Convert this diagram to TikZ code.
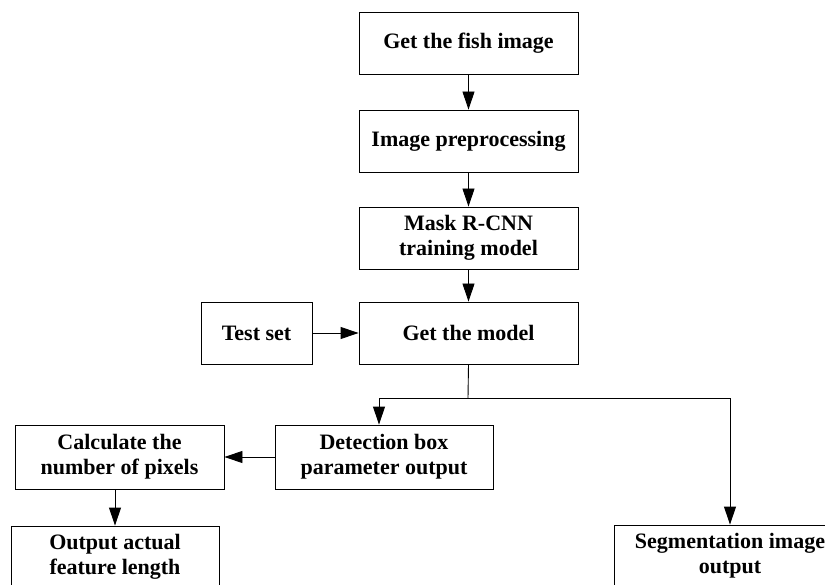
\documentclass[tikz,border=0pt]{standalone}
\usepackage{fontspec}
\setmainfont{Liberation Serif}
\usetikzlibrary{positioning, arrows.meta}

\begin{document}
\begin{tikzpicture}[x=1pt,y=-1pt,->,>={Triangle[length=18pt,width=12pt]},line width=0.9pt,
    block/.style={draw,rectangle,align=center,minimum height=62pt,inner sep=2pt,
      font=\fontsize{22}{25}\selectfont\bfseries}]
      \clip (0,0) rectangle (825,585);
      \node[block,minimum width=219pt] (fish) at (468.5,43) {Get the fish image};
      \node[block,minimum width=219pt] (prep) at (468.5,141) {Image preprocessing};
      \node[block,minimum width=219pt] (mask) at (468.5,238) {Mask R-CNN\\training model};
      \node[block,minimum width=219pt] (model) at (468.5,333) {Get the model};
      \node[block,minimum width=111pt] (test) at (256.5,333) {Test set};
      \node[block,minimum width=218pt,minimum height=64pt] (detect) at (384,457) {Detection box\\parameter output};
      \node[block,minimum width=209pt,minimum height=64pt] (calc) at (119.5,457) {Calculate the\\number of pixels};
      \node[block,minimum width=208pt] (out) at (115,557) {Output actual\\feature length};
      \node[block,minimum width=232pt] (seg) at (730,556) {Segmentation image\\output};
      \coordinate (split) at (468,398);

      \path (fish) edge (prep)
            (prep) edge (mask)
            (mask) edge (model)
            (test) edge (model)
            (detect) edge (calc)
            ;
      \draw (calc.south -| out.north) -- (out.north);
      \draw[-] (model.south) -- (split);
      \draw (split) -| ([xshift=-5pt]detect.north);
      \draw (split) -| (seg.north);
\end{tikzpicture}
\end{document}
